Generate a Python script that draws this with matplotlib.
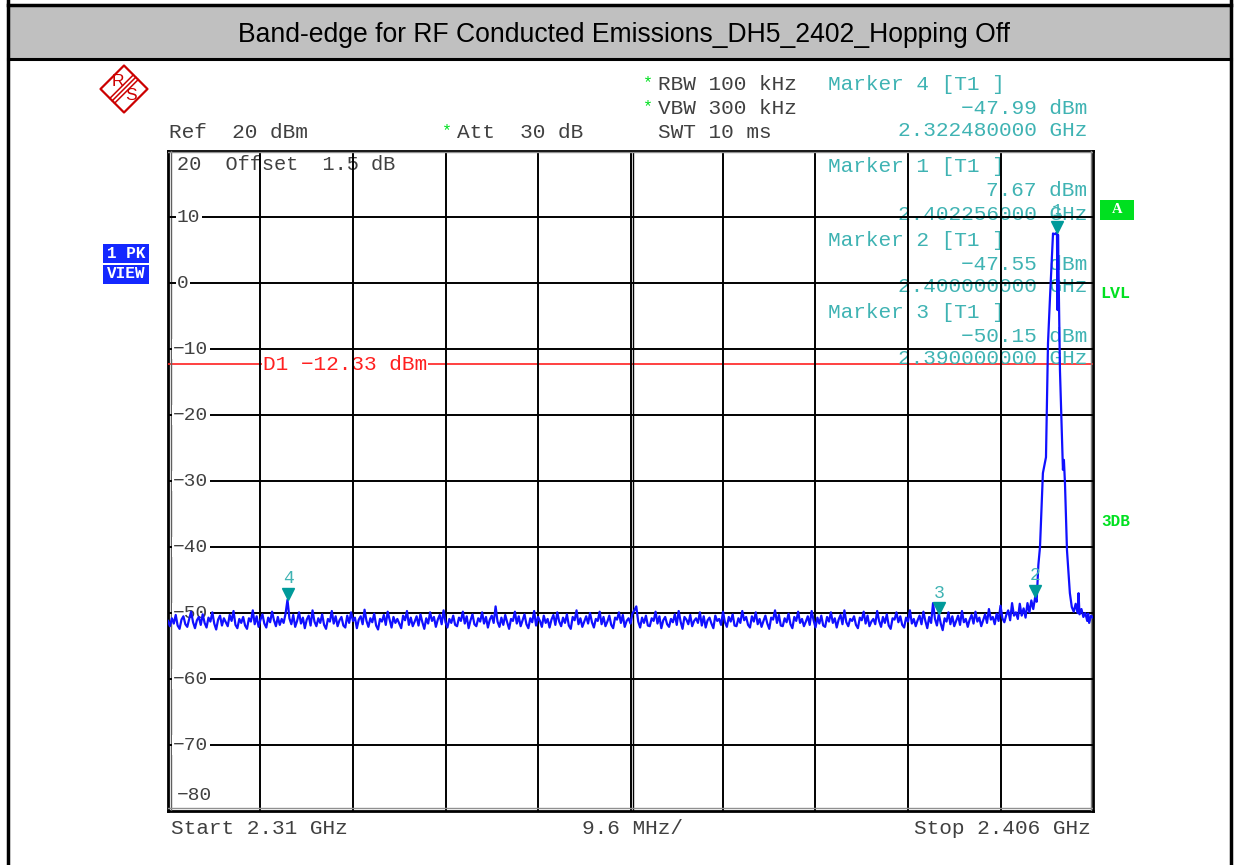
#!/usr/bin/env python3
# -*- coding: utf-8 -*-
"""
频谱仪截图重绘: Band-edge (DH5, 2402 MHz, Hopping Off)
"""

import matplotlib
matplotlib.use('Agg')
import matplotlib.pyplot as plt
import matplotlib.transforms as mtransforms
from matplotlib.patches import Polygon, Rectangle
import numpy as np

W, H = 1238, 865

# ---- 数据 ----
title = 'Band-edge for RF Conducted Emissions_DH5_2402_Hopping Off'
start_mhz, stop_mhz = 2310.0, 2406.0
ref_db, bottom_db = 20, -80
d1_db = -12.33

# 底噪 2310.0 ~ 2398.0 MHz, 每 0.2 MHz 一个点
floor_db = [
    -51.2, -52.0, -50.8, -51.6, -50.3, -51.9, -52.4, -51.0, -50.5, -51.7,
    -52.1, -50.9, -49.8, -51.4, -52.3, -51.1, -50.6, -51.8, -50.2, -51.5,
    -52.2, -50.7, -51.3, -49.9, -51.6, -52.5, -51.0, -50.4, -51.9, -50.8,
    -51.4, -52.0, -50.3, -51.2, -49.7, -51.8, -52.3, -50.9, -51.5, -50.6,
    -51.9, -52.4, -50.8, -51.3, -49.6, -51.7, -50.5, -52.1, -51.0, -50.2,
    -51.6, -52.2, -50.7, -51.4, -49.8, -51.1, -52.0, -50.6, -51.8, -50.9,
    -51.5, -50.1, -48.0, -50.8, -51.7, -50.3, -52.1, -51.2, -49.9, -51.6,
    -50.7, -52.3, -51.0, -50.4, -51.9, -49.6, -51.3, -52.0, -50.8, -51.5,
    -50.2, -51.8, -52.4, -50.9, -51.3, -49.7, -51.6, -50.5, -52.0, -51.1,
    -50.6, -51.9, -52.2, -50.4, -51.5, -49.9, -51.2, -50.7, -52.3, -51.0,
    -50.5, -51.7, -49.5, -51.2, -52.1, -50.8, -51.4, -50.1, -51.9, -52.5,
    -50.9, -51.3, -50.3, -51.8, -49.8, -51.0, -52.2, -50.6, -51.5, -50.9,
    -51.6, -52.3, -50.4, -51.1, -49.7, -51.8, -50.7, -52.0, -51.3, -50.5,
    -51.9, -50.2, -51.4, -52.4, -50.8, -51.6, -49.9, -51.2, -50.6, -52.1,
    -51.0, -50.3, -51.7, -49.6, -51.4, -52.2, -50.9, -51.5, -50.4, -51.8,
    -52.0, -50.7, -51.2, -49.8, -51.6, -50.5, -52.3, -51.1, -50.2, -51.7,
    -52.0, -50.8, -51.3, -49.9, -51.6, -50.6, -52.2, -51.0, -50.4, -51.5,
    -49.0, -51.3, -52.1, -50.7, -51.8, -50.3, -51.4, -52.4, -50.9, -51.2,
    -49.8, -51.6, -50.5, -52.0, -51.1, -50.2, -51.7, -52.3, -50.8, -51.4,
    -49.7, -51.9, -50.6, -51.2, -52.1, -50.4, -51.5, -50.9, -52.2, -51.0,
    -50.3, -51.8, -49.9, -51.3, -52.0, -50.7, -51.5, -50.2, -51.9, -52.4,
    -50.6, -51.1, -49.6, -51.7, -50.8, -52.1, -51.3, -50.5, -51.6, -50.0,
    -51.4, -52.2, -50.9, -51.2, -49.8, -51.7, -50.6, -52.0, -51.3, -50.4,
    -51.8, -52.3, -50.7, -51.0, -49.9, -51.5, -50.3, -52.1, -51.2, -50.8,
    -51.6, -50.1, -49.6, -49.0, -51.3, -52.2, -50.7, -51.5, -50.4, -51.9,
    -52.0, -50.8, -51.2, -49.8, -51.6, -50.5, -52.3, -51.1, -50.6, -51.7,
    -52.1, -50.9, -51.4, -50.2, -51.8, -49.7, -51.3, -52.4, -50.6, -51.0,
    -51.7, -50.3, -52.0, -51.2, -50.8, -51.5, -49.9, -51.9, -50.5, -52.2,
    -51.1, -50.7, -51.6, -52.3, -50.4, -51.2, -50.9, -51.8, -49.8, -51.4,
    -52.1, -50.6, -51.3, -50.2, -51.9, -52.0, -50.8, -51.5, -49.7, -51.1,
    -50.6, -51.8, -52.2, -50.5, -51.3, -49.9, -51.7, -50.9, -52.1, -51.2,
    -50.4, -51.6, -52.4, -50.7, -51.0, -49.6, -51.5, -50.3, -51.9, -52.0,
    -50.8, -51.4, -50.1, -51.7, -52.3, -50.6, -51.2, -49.8, -51.5, -50.9,
    -52.0, -51.3, -50.5, -51.8, -49.7, -51.1, -52.2, -50.7, -51.6, -50.4,
    -51.9, -52.1, -50.6, -51.3, -49.9, -51.5, -50.8, -52.2, -51.0, -50.3,
    -51.7, -49.6, -51.4, -52.0, -50.9, -51.2, -50.5, -51.8, -52.3, -50.7,
    -51.1, -49.8, -51.6, -50.4, -52.0, -51.3, -50.9, -51.7, -49.7, -51.2,
    -52.1, -50.6, -51.5, -50.2, -51.9, -52.4, -50.8, -51.0, -49.9, -51.4,
    -50.5, -51.8, -52.2, -50.7, -51.3, -49.6, -51.6, -50.9, -52.0, -51.1,
    -50.4, -51.7, -49.8, -51.2, -52.3, -50.6, -51.5, -48.5, -50.9, -51.9,
    -50.15, -51.6, -52.6, -50.8, -51.3, -49.9, -51.7, -50.5, -52.0, -51.2,
    -50.4, -51.8, -49.7, -51.4, -50.9, -52.1, -51.0, -50.3, -51.6, -49.8,
    -51.3, -50.7, -52.0, -51.1, -50.2, -51.5, -49.4, -51.0, -50.6, -51.7,
    -50.1, -51.2, -48.9, -50.8, -51.4, -50.3, -49.6, -51.1, -48.5, -50.4,
    -49.9,
]

# 信号附近 (2398.2 ~ 2406 MHz)
edge_mhz = [2398.2, 2398.4, 2398.6, 2398.8, 2399.0, 2399.2, 2399.4, 2399.6,
            2399.8, 2400.0, 2400.15, 2400.33, 2400.5, 2400.8, 2401.12, 2401.33,
            2401.54, 2401.85, 2402.05, 2402.26, 2402.32, 2402.37, 2402.57,
            2402.88, 2402.98, 2403.09, 2403.3, 2403.6, 2403.8, 2404.0, 2404.2,
            2404.4, 2404.5, 2404.6, 2404.8, 2405.0, 2405.2, 2405.4, 2405.5,
            2405.6, 2405.8, 2406.0]
edge_db = [-50.9, -48.6, -50.4, -49.3, -50.7, -48.5, -49.9, -48.1,
           -49.4, -47.55, -48.3, -42.7, -40.0, -28.8, -26.4, -9.1,
           -2.1, 7.5, 7.4, 7.67, -4.1, 7.3, -13.2,
           -28.3, -26.8, -30.3, -40.5, -47.0, -49.1, -49.8, -48.6,
           -50.0, -47.0, -50.2, -49.4, -50.6, -50.0, -51.2, -50.1,
           -51.5, -50.4, -50.7]

marker_ids = [1, 2, 3, 4]
marker_mhz = [2402.256, 2400.0, 2390.0, 2322.48]
marker_db = [7.67, -47.55, -50.15, -47.99]

y_ticks = [20, 10, 0, -10, -20, -30, -40, -50, -60, -70, -80]

# ---- 样式 ----
MONO = ['Liberation Mono', 'DejaVu Sans Mono']
GRAY_TXT = '#404040'
TEAL_TXT = '#3fb3b3'
TEAL = '#009a9a'
GREEN = '#00e020'
BLUE_BOX = '#1428ff'
FS = 15.2


def mt(v):
    # 仪器显示用长减号
    return v.replace('-', '\u2212')


fig = plt.figure(figsize=(W / 100, H / 100), dpi=100)
fig.patch.set_facecolor('white')

# 像素坐标的背景层
bg = fig.add_axes([0, 0, 1, 1])
bg.set_xlim(0, W)
bg.set_ylim(H, 0)
bg.axis('off')

# 外框和标题栏
bg.add_patch(Rectangle((8, 5), 1223, 53, facecolor='#c0c0c0', edgecolor='none'))
bg.plot([8, 1231], [5, 5], color='black', lw=2.5)
bg.plot([8, 1231], [58.5, 58.5], color='black', lw=2.2)
bg.plot([8, 8], [0, H], color='black', lw=2.5)
bg.plot([1231, 1231], [0, H], color='black', lw=2.5)
bg.text(624, 35, title, ha='center', va='center', fontsize=19.1,
        family='Liberation Sans', color='black')

# R&S 标志
cx, cy, r = 124, 89, 23.5
bg.add_patch(Polygon([(cx, cy - r), (cx + r, cy), (cx, cy + r), (cx - r, cy)],
                     closed=True, fill=False, edgecolor='#cc0000', lw=1.6,
                     joinstyle='round'))
for off in (-2.4, 0, 2.4):
    bg.plot([cx + r / 2 + off, cx - r / 2 + off],
            [cy - r / 2 + off, cy + r / 2 + off], color='#cc0000', lw=1.1)
bg.text(cx - 6.5, cy - 7, 'R', color='#cc0000', fontsize=12.5,
        family='Liberation Sans', ha='center', va='center')
bg.text(cx + 6.5, cy + 7, 'S', color='#cc0000', fontsize=12.5,
        family='Liberation Sans', ha='center', va='center')

# 上方设置信息
bg.text(169, 132, 'Ref  20 dBm', family=MONO, fontsize=FS, color=GRAY_TXT, va='center')
bg.text(447, 131, '*', family=MONO, fontsize=12, color=GREEN, va='center', ha='center')
bg.text(457, 132, 'Att  30 dB', family=MONO, fontsize=FS, color=GRAY_TXT, va='center')
bg.text(648, 83, '*', family=MONO, fontsize=12, color=GREEN, va='center', ha='center')
bg.text(658, 84, 'RBW 100 kHz', family=MONO, fontsize=FS, color=GRAY_TXT, va='center')
bg.text(648, 107, '*', family=MONO, fontsize=12, color=GREEN, va='center', ha='center')
bg.text(658, 108, 'VBW 300 kHz', family=MONO, fontsize=FS, color=GRAY_TXT, va='center')
bg.text(658, 132, 'SWT 10 ms', family=MONO, fontsize=FS, color=GRAY_TXT, va='center')

# 左侧蓝色标签
bg.add_patch(Rectangle((103, 244), 46, 19, facecolor=BLUE_BOX, edgecolor='none'))
bg.add_patch(Rectangle((103, 264.5), 46, 19.5, facecolor=BLUE_BOX, edgecolor='none'))
bg.text(126, 253, '1 PK', family=MONO, fontsize=11.5, weight='bold', color='white',
        ha='center', va='center')
bg.text(126, 274, 'VIEW', family=MONO, fontsize=11.5, weight='bold', color='white',
        ha='center', va='center')

# 右侧绿色标签
bg.add_patch(Rectangle((1100, 200), 34, 20, facecolor=GREEN, edgecolor='none'))
bg.text(1117, 209.5, 'A', family='Liberation Serif', fontsize=10.5, weight='bold',
        color='white', ha='center', va='center')
bg.text(1100, 293, 'LVL', family=MONO, fontsize=12, weight='bold', color=GREEN, va='center')
bg.text(1101, 521, '3DB', family=MONO, fontsize=11.5, weight='bold', color=GREEN, va='center')

# 底部频率信息
bg.text(171, 829, 'Start 2.31 GHz', family=MONO, fontsize=FS, color=GRAY_TXT, va='center')
bg.text(582, 829, '9.6 MHz/', family=MONO, fontsize=FS, color=GRAY_TXT, va='center')
bg.text(1091, 829, 'Stop 2.406 GHz', family=MONO, fontsize=FS, color=GRAY_TXT,
        va='center', ha='right')

# ---- 主图 ----
x0, x1, y0, y1 = 168, 1093, 151, 811
ax = fig.add_axes([x0 / W, 1 - y1 / H, (x1 - x0) / W, (y1 - y0) / H])
ax.set_xlim(start_mhz, stop_mhz)
ax.set_ylim(bottom_db, ref_db)
ax.set_xticks([])
ax.set_yticks([])
for s in ax.spines.values():
    s.set_linewidth(2.0)
    s.set_color('black')

div = (stop_mhz - start_mhz) / 10
for k in range(1, 10):
    ax.axvline(start_mhz + k * div, color='black', lw=1.4, zorder=4)
ax.axvline(start_mhz + 5 * div + 0.27, color='black', lw=1.0, zorder=4)
ax.axvline(start_mhz + 0.3, color='#606060', lw=1.0, zorder=4)
ax.axvline(stop_mhz - 0.2, color='#808080', lw=1.0, zorder=4)
ax.axhline(bottom_db + 0.5, color='#909090', lw=1.0, zorder=4)
ax.axhline(ref_db - 0.2, color='#909090', lw=1.0, zorder=4)
for v in y_ticks[1:-1]:
    ax.axhline(v, color='black', lw=1.4, zorder=4)

px_per_db = (y1 - y0) / (ref_db - bottom_db)


def ypix(v):
    return y0 + (ref_db - v) * px_per_db


# 纵轴标签
for v in y_ticks:
    if v == ref_db:
        ax.text(177, 165, '20  Offset  1.5 dB', family=MONO, fontsize=14.6,
                color=GRAY_TXT, va='center', transform=bg.transData, zorder=3)
    elif v == bottom_db:
        ax.text(177, 796, mt(str(v)), family=MONO, fontsize=14,
                color=GRAY_TXT, va='center', transform=bg.transData, zorder=4.5)
    else:
        ax.text(177 if v >= 0 else 173, ypix(v), mt(str(v)), family=MONO, fontsize=14,
                color=GRAY_TXT, va='center', transform=bg.transData, zorder=4.5,
                bbox=dict(facecolor='white', edgecolor='none', pad=1.0))

# 显示线 D1
ax.axhline(d1_db, color='#ff2020', lw=1.2, zorder=3)
ax.text(263, ypix(d1_db), mt(f'D1 {d1_db:.2f} dBm'), family=MONO, fontsize=FS,
        color='#ff2020', va='center', transform=bg.transData, zorder=3.5,
        bbox=dict(facecolor='white', edgecolor='none', pad=0.5))

# 频谱曲线
trace_mhz = np.concatenate([np.linspace(start_mhz, 2398.0, len(floor_db)), edge_mhz])
trace_db = np.concatenate([floor_db, edge_db])
ax.plot(trace_mhz, trace_db, color='#1010ff', lw=1.6, zorder=5, clip_on=True)

# 标记点
tri = mtransforms.offset_copy(ax.transData, fig=fig, y=4.0, units='points')
lab = mtransforms.offset_copy(ax.transData, fig=fig, y=15.0, units='points')
for mid, f, v in zip(marker_ids, marker_mhz, marker_db):
    ax.plot([f], [v], marker='v', markersize=9, color=TEAL, transform=tri, zorder=6,
            clip_on=False)
    ax.text(f, v, str(mid), family=MONO, fontsize=13, color=TEAL_TXT, ha='center',
            va='center', transform=lab, zorder=6)

# 标记读数
blocks = {4: 84, 1: 167, 2: 240, 3: 312}
for mid, f, v in zip(marker_ids, marker_mhz, marker_db):
    yb = blocks[mid]
    ax.text(828, yb, f'Marker {mid} [T1 ]', family=MONO, fontsize=FS, color=TEAL_TXT,
            va='center', transform=bg.transData, zorder=3, clip_on=False)
    ax.text(1087, yb + 24, mt(f'{v:.2f} dBm'), family=MONO, fontsize=FS, color=TEAL_TXT,
            va='center', ha='right', transform=bg.transData, zorder=3, clip_on=False)
    ax.text(1087, yb + 47, f'{f / 1000:.9f} GHz', family=MONO, fontsize=FS,
            color=TEAL_TXT, va='center', ha='right', transform=bg.transData, zorder=3,
            clip_on=False)

fig.savefig('out.png', dpi=100)
plt.close(fig)
